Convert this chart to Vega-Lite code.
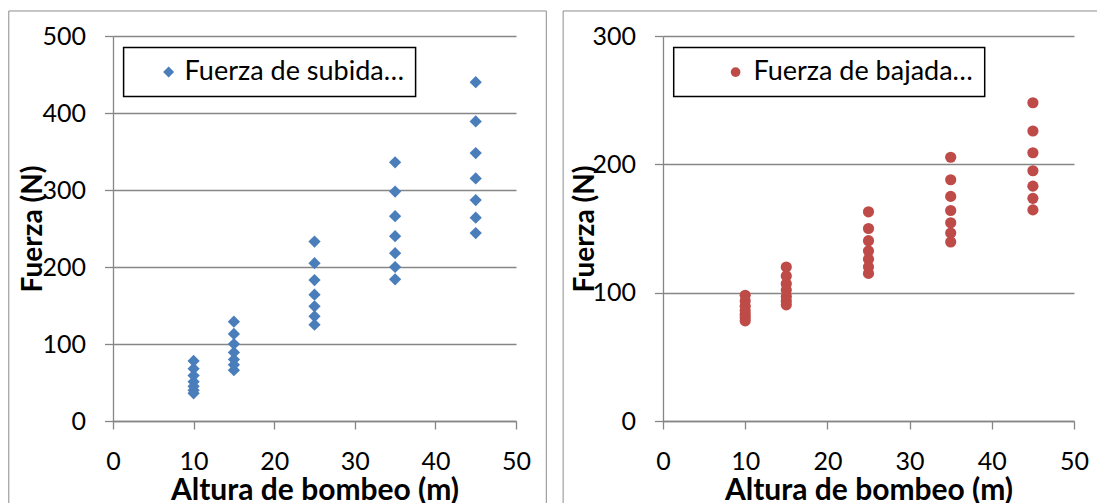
{
  "$schema": "https://vega.github.io/schema/vega-lite/v6.json",
  "padding": {"left": 8, "top": 10, "right": 0, "bottom": 0},
  "background": "white",
  "spacing": 147,
  "bounds": "flush",
  "resolve": {"scale": {"color": "independent", "x": "independent", "y": "independent"}, "legend": {"color": "independent"}},
  "config": {
    "view": {"stroke": null},
    "font": "Lato",
    "axis": {
      "labelFont": "Lato", "labelFontSize": 25, "labelColor": "#000000",
      "labelFlush": false, "labelOverlap": false,
      "titleFont": "Lato", "titleFontWeight": "bold", "titleFontSize": 28, "titleColor": "#000000",
      "domainColor": "#868686", "domainWidth": 1.3,
      "tickColor": "#868686", "tickWidth": 1.3,
      "gridColor": "#868686", "gridWidth": 1.3
    },
    "axisX": {"titleFontSize": 30},
    "legend": {
      "orient": "none", "legendY": 11.6,
      "strokeColor": "#000000", "strokeWidth": 1.5, "fillColor": "#ffffff",
      "padding": 11, "labelFont": "Lato", "labelFontSize": 27, "labelColor": "#000000",
      "labelLimit": 500, "symbolStrokeWidth": 0
    }
  },
  "hconcat": [
    {
      "width": 403,
      "height": 385,
      "layer": [
        {
          "data": {"values": [{"k": 1}]},
          "mark": {"type": "rect", "filled": false, "color": "#8c8c8c", "strokeWidth": 1},
          "encoding": {
            "x": {"datum": -12.93, "type": "quantitative", "scale": {"domain": [0, 50]},
              "axis": {"values": [0, 10, 20, 30, 40, 50], "grid": false, "tickSize": 8, "labelPadding": 20,
                "title": "Altura de bombeo (m)", "titleBaseline": "alphabetic", "titleY": 78.6}},
            "x2": {"datum": 53.76},
            "y": {"datum": 532.5, "type": "quantitative", "scale": {"domain": [0, 500]},
              "axis": {"values": [0, 100, 200, 300, 400, 500], "grid": true, "tickSize": 8.5, "labelPadding": 19,
                "title": "Fuerza (N)", "titleX": -79.7, "titleY": 192.5, "titleAngle": -90, "titleAlign": "center", "titleBaseline": "middle"}},
            "y2": {"datum": -120}
          }
        },
        {
          "data": {"values": [
            {"altura": 10, "fuerza": 78, "serie": "Fuerza de subida…"},
            {"altura": 10, "fuerza": 68, "serie": "Fuerza de subida…"},
            {"altura": 10, "fuerza": 59, "serie": "Fuerza de subida…"},
            {"altura": 10, "fuerza": 51, "serie": "Fuerza de subida…"},
            {"altura": 10, "fuerza": 45, "serie": "Fuerza de subida…"},
            {"altura": 10, "fuerza": 40, "serie": "Fuerza de subida…"},
            {"altura": 10, "fuerza": 36, "serie": "Fuerza de subida…"},
            {"altura": 15, "fuerza": 129, "serie": "Fuerza de subida…"},
            {"altura": 15, "fuerza": 113, "serie": "Fuerza de subida…"},
            {"altura": 15, "fuerza": 100, "serie": "Fuerza de subida…"},
            {"altura": 15, "fuerza": 89, "serie": "Fuerza de subida…"},
            {"altura": 15, "fuerza": 80, "serie": "Fuerza de subida…"},
            {"altura": 15, "fuerza": 73, "serie": "Fuerza de subida…"},
            {"altura": 15, "fuerza": 66, "serie": "Fuerza de subida…"},
            {"altura": 25, "fuerza": 233, "serie": "Fuerza de subida…"},
            {"altura": 25, "fuerza": 205, "serie": "Fuerza de subida…"},
            {"altura": 25, "fuerza": 183, "serie": "Fuerza de subida…"},
            {"altura": 25, "fuerza": 164, "serie": "Fuerza de subida…"},
            {"altura": 25, "fuerza": 149, "serie": "Fuerza de subida…"},
            {"altura": 25, "fuerza": 136, "serie": "Fuerza de subida…"},
            {"altura": 25, "fuerza": 125, "serie": "Fuerza de subida…"},
            {"altura": 35, "fuerza": 336, "serie": "Fuerza de subida…"},
            {"altura": 35, "fuerza": 298, "serie": "Fuerza de subida…"},
            {"altura": 35, "fuerza": 266, "serie": "Fuerza de subida…"},
            {"altura": 35, "fuerza": 240, "serie": "Fuerza de subida…"},
            {"altura": 35, "fuerza": 218, "serie": "Fuerza de subida…"},
            {"altura": 35, "fuerza": 200, "serie": "Fuerza de subida…"},
            {"altura": 35, "fuerza": 184, "serie": "Fuerza de subida…"},
            {"altura": 45, "fuerza": 440, "serie": "Fuerza de subida…"},
            {"altura": 45, "fuerza": 389, "serie": "Fuerza de subida…"},
            {"altura": 45, "fuerza": 348, "serie": "Fuerza de subida…"},
            {"altura": 45, "fuerza": 315, "serie": "Fuerza de subida…"},
            {"altura": 45, "fuerza": 287, "serie": "Fuerza de subida…"},
            {"altura": 45, "fuerza": 264, "serie": "Fuerza de subida…"},
            {"altura": 45, "fuerza": 244, "serie": "Fuerza de subida…"}
          ]},
          "mark": {"type": "point", "shape": "diamond", "filled": true, "size": 150, "opacity": 1, "strokeWidth": 0},
          "encoding": {
            "x": {"field": "altura", "type": "quantitative", "scale": {"domain": [0, 50]},
              "axis": {"values": [0, 10, 20, 30, 40, 50], "grid": false, "tickSize": 8, "labelPadding": 20,
                "title": "Altura de bombeo (m)", "titleBaseline": "alphabetic", "titleY": 78.6}},
            "y": {"field": "fuerza", "type": "quantitative", "scale": {"domain": [0, 500]},
              "axis": {"values": [0, 100, 200, 300, 400, 500], "grid": true, "tickSize": 8.5, "labelPadding": 19,
                "title": "Fuerza (N)", "titleX": -79.7, "titleY": 192.5, "titleAngle": -90, "titleAlign": "center", "titleBaseline": "middle"}},
            "color": {"field": "serie", "type": "nominal", "scale": {"range": ["#4a7ebb"]},
              "legend": {"title": null, "legendX": 10.6, "symbolType": "diamond", "symbolSize": 121, "symbolOffset": 20.5, "labelOffset": 2.5}}
          }
        }
      ]
    },
    {
      "width": 411,
      "height": 385,
      "layer": [
        {
          "data": {"values": [{"k": 1}]},
          "mark": {"type": "rect", "filled": false, "color": "#8c8c8c", "strokeWidth": 1},
          "encoding": {
            "x": {"datum": -12.15, "type": "quantitative", "scale": {"domain": [0, 50]},
              "axis": {"values": [0, 10, 20, 30, 40, 50], "grid": false, "tickSize": 8, "labelPadding": 20,
                "title": "Altura de bombeo (m)", "titleBaseline": "alphabetic", "titleY": 78.6}},
            "x2": {"datum": 56},
            "y": {"datum": 319.5, "type": "quantitative", "scale": {"domain": [0, 300]},
              "axis": {"values": [0, 100, 200, 300], "grid": true, "tickSize": 8.5, "labelPadding": 19,
                "title": "Fuerza (N)", "titleX": -77.1, "titleY": 192.5, "titleAngle": -90, "titleAlign": "center", "titleBaseline": "middle"}},
            "y2": {"datum": -75}
          }
        },
        {
          "data": {"values": [
            {"altura": 10, "fuerza": 98, "serie": "Fuerza de bajada…"},
            {"altura": 10, "fuerza": 93.5, "serie": "Fuerza de bajada…"},
            {"altura": 10, "fuerza": 89.5, "serie": "Fuerza de bajada…"},
            {"altura": 10, "fuerza": 86, "serie": "Fuerza de bajada…"},
            {"altura": 10, "fuerza": 83, "serie": "Fuerza de bajada…"},
            {"altura": 10, "fuerza": 80.5, "serie": "Fuerza de bajada…"},
            {"altura": 10, "fuerza": 78, "serie": "Fuerza de bajada…"},
            {"altura": 15, "fuerza": 120, "serie": "Fuerza de bajada…"},
            {"altura": 15, "fuerza": 113, "serie": "Fuerza de bajada…"},
            {"altura": 15, "fuerza": 107, "serie": "Fuerza de bajada…"},
            {"altura": 15, "fuerza": 102, "serie": "Fuerza de bajada…"},
            {"altura": 15, "fuerza": 97, "serie": "Fuerza de bajada…"},
            {"altura": 15, "fuerza": 93.5, "serie": "Fuerza de bajada…"},
            {"altura": 15, "fuerza": 90.5, "serie": "Fuerza de bajada…"},
            {"altura": 25, "fuerza": 163, "serie": "Fuerza de bajada…"},
            {"altura": 25, "fuerza": 150, "serie": "Fuerza de bajada…"},
            {"altura": 25, "fuerza": 140.5, "serie": "Fuerza de bajada…"},
            {"altura": 25, "fuerza": 132.5, "serie": "Fuerza de bajada…"},
            {"altura": 25, "fuerza": 126, "serie": "Fuerza de bajada…"},
            {"altura": 25, "fuerza": 120, "serie": "Fuerza de bajada…"},
            {"altura": 25, "fuerza": 115, "serie": "Fuerza de bajada…"},
            {"altura": 35, "fuerza": 205.5, "serie": "Fuerza de bajada…"},
            {"altura": 35, "fuerza": 188, "serie": "Fuerza de bajada…"},
            {"altura": 35, "fuerza": 175, "serie": "Fuerza de bajada…"},
            {"altura": 35, "fuerza": 164, "serie": "Fuerza de bajada…"},
            {"altura": 35, "fuerza": 154.5, "serie": "Fuerza de bajada…"},
            {"altura": 35, "fuerza": 146.5, "serie": "Fuerza de bajada…"},
            {"altura": 35, "fuerza": 139.5, "serie": "Fuerza de bajada…"},
            {"altura": 45, "fuerza": 248, "serie": "Fuerza de bajada…"},
            {"altura": 45, "fuerza": 226, "serie": "Fuerza de bajada…"},
            {"altura": 45, "fuerza": 209, "serie": "Fuerza de bajada…"},
            {"altura": 45, "fuerza": 195, "serie": "Fuerza de bajada…"},
            {"altura": 45, "fuerza": 183, "serie": "Fuerza de bajada…"},
            {"altura": 45, "fuerza": 173.5, "serie": "Fuerza de bajada…"},
            {"altura": 45, "fuerza": 164.5, "serie": "Fuerza de bajada…"}
          ]},
          "mark": {"type": "point", "shape": "circle", "filled": true, "size": 125, "opacity": 1, "strokeWidth": 0},
          "encoding": {
            "x": {"field": "altura", "type": "quantitative", "scale": {"domain": [0, 50]},
              "axis": {"values": [0, 10, 20, 30, 40, 50], "grid": false, "tickSize": 8, "labelPadding": 20,
                "title": "Altura de bombeo (m)", "titleBaseline": "alphabetic", "titleY": 78.6}},
            "y": {"field": "fuerza", "type": "quantitative", "scale": {"domain": [0, 300]},
              "axis": {"values": [0, 100, 200, 300], "grid": true, "tickSize": 8.5, "labelPadding": 19,
                "title": "Fuerza (N)", "titleX": -77.1, "titleY": 192.5, "titleAngle": -90, "titleAlign": "center", "titleBaseline": "middle"}},
            "color": {"field": "serie", "type": "nominal", "scale": {"range": ["#be4b48"]},
              "legend": {"title": null, "legendX": 10.7, "symbolType": "circle", "symbolSize": 95, "symbolOffset": 37.4, "labelOffset": 4.3}}
          }
        }
      ]
    }
  ]
}
